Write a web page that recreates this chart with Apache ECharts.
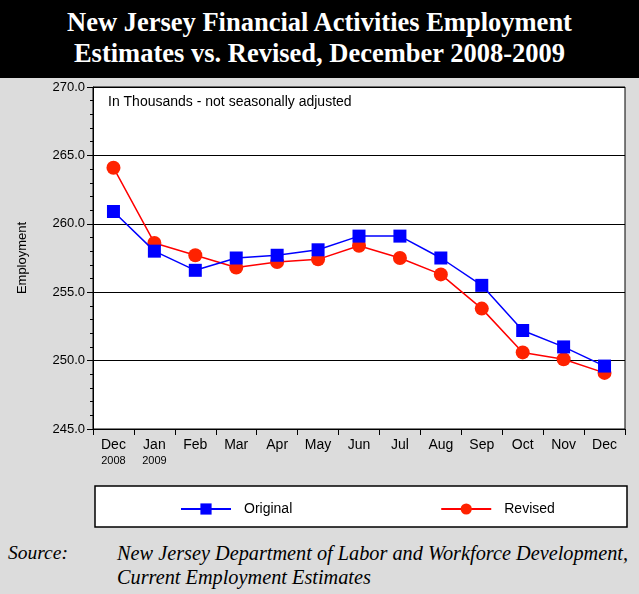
<!DOCTYPE html>
<html>
<head>
<meta charset="UTF-8">
<script src="https://cdn.jsdelivr.net/npm/echarts@6/dist/echarts.min.js"></script>
<style>
body { margin:0; background:#dcdcdc; }
#title { position:absolute; left:0; top:0; width:639px; height:78px; background:#000; color:#fff;
  font-family:"Liberation Serif",serif; font-weight:bold; font-size:26.5px; text-align:center; line-height:31px; padding-top:7px; box-sizing:border-box; }
#main { position:absolute; left:0; top:78px; width:639px; height:460px; }
.src { position:absolute; font-family:"Liberation Serif",serif; font-style:italic; font-size:19.5px; line-height:24px; color:#000; white-space:nowrap; }
</style>
</head>
<body>
<div id="title">New Jersey Financial Activities Employment<br>Estimates vs. Revised, December 2008-2009</div>
<div id="main"></div>
<div class="src" style="left:8px; top:541px;">Source:</div>
<div class="src" style="left:117px; top:541px; font-size:20.3px;">New Jersey Department of Labor and Workforce Development,<br>Current Employment Estimates</div>
<script type="text/javascript">
var months = ['Dec\n{s|2008}', 'Jan\n{s|2009}', 'Feb', 'Mar', 'Apr', 'May', 'Jun', 'Jul', 'Aug', 'Sep', 'Oct', 'Nov', 'Dec'];
var original = [260.9, 258.0, 256.6, 257.5, 257.7, 258.1, 259.1, 259.1, 257.5, 255.5, 252.2, 251.0, 249.6];
var revised = [264.1, 258.6, 257.7, 256.8, 257.2, 257.4, 258.4, 257.5, 256.3, 253.8, 250.6, 250.1, 249.1];

var myChart = echarts.init(document.getElementById('main'));
myChart.setOption({
	backgroundColor : '#dcdcdc',
	graphic : [
		{ type:'rect', shape:{x:93, y:9, width:532, height:342}, style:{fill:'#fff'}, z:-1 },
		{ type:'rect', shape:{x:95, y:408, width:532, height:41}, style:{fill:'#fff', stroke:'#000', lineWidth:1.5} },
		{ type:'text', left:108, top:17, style:{text:'In Thousands - not seasonally adjusted', font:'14px "Liberation Sans"', fill:'#000'} },
		{ type:'rect', shape:{x:93, y:9, width:532, height:342}, style:{fill:'none', stroke:'#000', lineWidth:1}, z:10 }
	],
	grid : { left:93, right:14, top:9, height:342 },
	legend : {
		top:419, left:175, itemGap:148, itemWidth:50, itemHeight:14,
		textStyle:{ fontFamily:'Liberation Sans', fontSize:14, color:'#000', padding:[0,0,0,8] },
		data:['Original','Revised']
	},
	xAxis : {
		type:'category', data:months, boundaryGap:true,
		axisLine:{ lineStyle:{color:'#000'} },
		axisTick:{ show:true, length:6, lineStyle:{color:'#000'} },
		axisLabel:{ interval:0, color:'#000', fontFamily:'Liberation Sans', fontSize:14, lineHeight:16, margin:8,
			rich:{ s:{ fontSize:11, fontFamily:'Liberation Sans', color:'#000' } } }
	},
	yAxis : {
		type:'value', min:245, max:270, interval:5,
		name:'Employment', nameLocation:'middle', nameGap:64, nameRotate:90,
		nameTextStyle:{ color:'#000', fontFamily:'Liberation Sans', fontSize:13 },
		axisLine:{ show:true, lineStyle:{color:'#000'} },
		axisTick:{ show:true, length:6, lineStyle:{color:'#000'} },
		minorTick:{ show:true, splitNumber:5, length:3, lineStyle:{color:'#000'} },
		splitLine:{ show:true, lineStyle:{color:'#000'} },
		axisLabel:{ color:'#000', fontFamily:'Liberation Sans', fontSize:13, formatter:function(v){ return v.toFixed(1); } }
	},
	series : [
		{ name:'Original', type:'line', data:original, symbol:'rect', symbolSize:13,
		  itemStyle:{color:'#0000ff'}, lineStyle:{color:'#0000ff', width:1.5}, z:3 },
		{ name:'Revised', type:'line', data:revised, symbol:'circle', symbolSize:14,
		  itemStyle:{color:'#ff2200'}, lineStyle:{color:'#ff0000', width:1.5}, z:2 }
	]
});
</script>
</body>
</html>
